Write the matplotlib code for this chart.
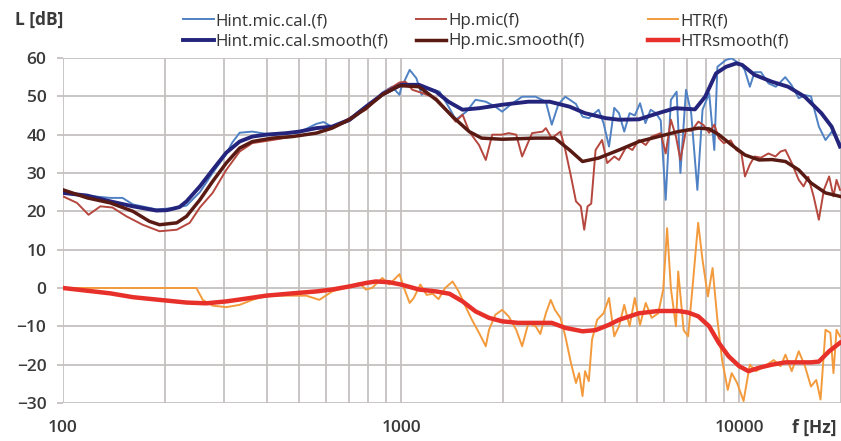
import matplotlib
matplotlib.use("Agg")
import matplotlib.pyplot as plt
from matplotlib.ticker import FixedLocator, NullFormatter

plt.rcParams['font.family'] = ['Open Sans', 'DejaVu Sans']

# Hint.mic.cal.(f) - raw
hint_f = [100, 110, 120, 138, 150, 161, 189, 210, 232, 254,
          277, 304, 317, 333, 363, 399, 458, 500, 561, 590,
          625, 703, 787, 880, 940, 989, 1000, 1060, 1110, 1150,
          1200, 1300, 1390, 1450, 1560, 1660, 1780, 1900, 1990, 2120,
          2280, 2500, 2680, 2790, 2920, 3060, 3290, 3440, 3590, 3840,
          3970, 4120, 4270, 4410, 4570, 4740, 4910, 5090, 5280, 5470,
          5670, 5860, 6060, 6280, 6530, 6700, 6960, 7210, 7520, 7790,
          8150, 8440, 8620, 9140, 9500, 10150, 10380, 10750, 11100, 11600,
          12200, 12830, 13680, 14260, 15000, 15650, 16300, 17200, 18000, 18800,
          19860]
hint_L = [25.5, 24.5, 24.0, 23.5, 23.5, 21.8, 20.5, 20.8, 21.5, 25.0,
          30.0, 35.0, 38.0, 40.5, 40.8, 40.2, 40.3, 40.6, 42.8, 43.3,
          42.0, 43.5, 46.8, 51.0, 52.5, 50.4, 52.1, 56.9, 54.7, 50.4,
          52.1, 51.2, 46.9, 43.9, 46.0, 49.1, 48.6, 47.3, 46.0, 48.0,
          49.9, 49.9, 48.6, 42.6, 48.0, 49.9, 48.0, 44.7, 44.3, 46.5,
          43.0, 36.9, 47.0, 45.6, 40.8, 45.6, 45.0, 48.2, 43.0, 46.5,
          45.6, 43.7, 23.0, 49.1, 51.2, 30.0, 51.7, 45.6, 25.6, 46.5,
          50.8, 36.0, 57.7, 59.5, 59.9, 58.2, 56.9, 52.5, 56.3, 56.3,
          53.4, 52.5, 55.0, 53.0, 49.5, 50.3, 50.0, 42.1, 38.6, 40.8,
          37.8]

# Hint.mic.cal.smooth(f)
hint_s_f = [100, 118, 138, 161, 189, 203, 221, 232, 254, 277,
            304, 333, 363, 399, 458, 500, 561, 625, 703, 787,
            880, 1000, 1130, 1270, 1380, 1520, 1700, 1990, 2380, 2750,
            3150, 3500, 4030, 4410, 5050, 5760, 6460, 7400, 7930, 8540,
            9140, 9800, 10200, 11100, 12500, 13950, 15620, 17500, 18760, 19860]
hint_s_L = [24.8, 24.1, 22.6, 21.3, 20.2, 20.3, 21.1, 22.6, 26.5, 30.8,
            35.3, 38.2, 39.5, 40.0, 40.4, 40.8, 41.7, 42.1, 43.9, 47.3,
            50.5, 53.0, 53.0, 51.2, 48.6, 46.5, 46.9, 47.8, 48.6, 48.6,
            47.3, 45.6, 44.3, 43.9, 44.0, 45.6, 46.9, 46.6, 49.9, 56.0,
            57.7, 58.6, 58.2, 55.6, 53.8, 52.5, 49.9, 45.6, 42.1, 36.9]

# Hp.mic(f) - raw
hp_f = [100, 110, 119, 129, 140, 154, 172, 193, 217, 237,
        254, 277, 304, 333, 363, 416, 477, 561, 625, 703,
        787, 880, 989, 1030, 1080, 1160, 1270, 1350, 1450, 1520,
        1590, 1700, 1780, 1860, 1990, 2080, 2190, 2280, 2440, 2620,
        2680, 2790, 2960, 3060, 3180, 3290, 3400, 3480, 3560, 3650,
        3760, 3930, 4070, 4270, 4410, 4640, 4830, 5050, 5290, 5510,
        5860, 6060, 6280, 6500, 6700, 6960, 7230, 7570, 7840, 8150,
        8440, 8700, 9000, 9440, 9800, 10150, 10400, 10750, 11100, 11600,
        12200, 12800, 13250, 13700, 14300, 15000, 15500, 16000, 16600, 17200,
        17800, 18450, 19000, 19400, 19860]
hp_L = [23.9, 22.2, 19.1, 21.3, 21.0, 18.7, 16.5, 14.8, 15.2, 17.0,
        21.0, 24.8, 30.8, 35.6, 37.8, 38.6, 39.5, 40.4, 41.7, 44.3,
        46.5, 50.8, 53.6, 53.8, 51.7, 50.8, 49.5, 46.9, 43.4, 45.2,
        40.8, 37.3, 33.4, 40.0, 40.0, 40.4, 40.0, 34.3, 40.4, 40.8,
        41.7, 39.1, 40.8, 36.0, 29.1, 22.6, 21.3, 15.2, 21.3, 22.0,
        36.0, 38.6, 32.6, 34.3, 33.4, 36.9, 36.0, 38.6, 37.3, 39.5,
        40.4, 35.1, 43.9, 39.5, 33.4, 41.2, 41.0, 43.4, 42.5, 40.5,
        42.6, 39.1, 37.8, 38.5, 36.0, 35.1, 29.1, 32.2, 34.3, 34.0,
        35.1, 34.3, 35.6, 36.0, 32.6, 28.2, 26.5, 29.0, 23.9, 17.8,
        25.6, 29.1, 23.9, 28.2, 25.6]

# Hp.mic.smooth(f)
hp_s_f = [100, 118, 138, 161, 180, 193, 217, 232, 254, 277,
          304, 333, 363, 416, 477, 561, 625, 703, 787, 880,
          989, 1130, 1270, 1420, 1590, 1730, 1990, 2500, 2850, 3150,
          3440, 3840, 4410, 5050, 5760, 6600, 7570, 8150, 8700, 9500,
          10400, 11450, 12500, 13700, 15000, 16300, 18000, 19860]
hp_s_L = [25.6, 23.5, 22.2, 20.0, 17.4, 16.5, 17.0, 18.7, 23.0, 27.8,
          32.6, 36.5, 38.2, 39.1, 39.5, 40.4, 41.7, 43.9, 46.9, 50.4,
          52.8, 52.5, 49.1, 44.7, 40.8, 39.1, 38.8, 39.1, 39.1, 36.0,
          33.0, 33.9, 36.0, 38.2, 39.5, 40.8, 41.7, 41.5, 40.0, 37.3,
          34.7, 33.4, 33.5, 33.0, 30.8, 27.4, 24.8, 23.9]

# HTR(f) - raw
htr_f = [100, 248, 259, 277, 304, 333, 363, 399, 524, 573,
         625, 703, 752, 787, 820, 880, 922, 989, 1020, 1060,
         1090, 1140, 1190, 1240, 1290, 1350, 1420, 1480, 1550, 1620,
         1700, 1780, 1820, 1900, 1990, 2080, 2190, 2280, 2380, 2500,
         2580, 2680, 2770, 2850, 2960, 3060, 3180, 3290, 3360, 3440,
         3500, 3590, 3670, 3800, 3970, 4120, 4270, 4410, 4570, 4740,
         4910, 5090, 5290, 5510, 5760, 5960, 6120, 6280, 6500, 6600,
         6850, 7060, 7310, 7560, 7790, 8080, 8340, 8620, 8900, 9250,
         9500, 9860, 10300, 10750, 11200, 11900, 12650, 13250, 13700, 14300,
         15000, 15650, 16300, 16900, 17400, 18000, 18600, 19000, 19400, 19860]
htr_L = [0.0, 0.0, -3.1, -4.6, -5.0, -4.4, -3.1, -2.0, -2.0, -3.1,
         -0.9, 0.4, 1.3, -0.4, 0.0, 2.6, 0.9, 3.6, 0.0, -3.9,
         -2.6, 0.9, -1.8, -1.5, -2.9, 0.0, 1.7, -0.9, -4.8, -8.3,
         -11.7, -15.2, -10.9, -7.0, -5.7, -7.4, -10.9, -15.2, -9.1, -10.0,
         -12.0, -6.6, -3.1, -5.7, -7.8, -12.6, -19.6, -24.8, -22.2, -28.2,
         -21.7, -24.3, -13.5, -8.3, -6.6, -2.6, -12.6, -10.0, -4.4, -10.0,
         -2.6, -9.6, -3.9, -7.8, -6.6, -0.4, 15.6, -0.2, -10.0, 4.3,
         -11.0, -12.6, 2.2, 17.0, 7.3, -2.2, 5.2, -8.3, -18.8, -26.6,
         -22.2, -24.8, -29.5, -20.0, -21.7, -20.4, -18.8, -20.4, -17.4, -21.7,
         -16.5, -20.4, -25.7, -24.0, -29.1, -10.9, -11.7, -22.2, -10.9, -12.6]

# HTRsmooth(f)
htr_s_f = [100, 138, 161, 193, 232, 265, 304, 340, 399, 477,
           561, 625, 703, 787, 842, 922, 1000, 1130, 1270, 1390,
           1520, 1660, 1820, 1990, 2220, 2500, 2790, 3060, 3440, 3760,
           4120, 4410, 5050, 5760, 6600, 7060, 7570, 8150, 8700, 9300,
           10000, 10650, 11450, 12500, 13700, 15000, 16300, 17200, 18450, 19860]
htr_s_L = [0.0, -1.4, -2.4, -3.1, -3.8, -4.0, -3.5, -2.9, -2.0, -1.4,
           -0.9, -0.4, 0.4, 1.3, 1.7, 1.5, 0.9, -0.4, -0.9, -1.5,
           -3.5, -6.1, -7.8, -8.7, -9.1, -9.1, -9.1, -10.4, -11.3, -11.0,
           -9.6, -8.3, -6.6, -6.0, -6.0, -6.4, -7.4, -10.0, -14.3, -17.8,
           -20.4, -21.7, -20.8, -20.0, -19.4, -19.4, -19.4, -19.2, -16.5, -14.3]

fig = plt.figure(figsize=(8.41, 4.41), dpi=100)
ax = fig.add_axes([0.0749, 0.0862, 0.9251, 0.7823])

gridCol = '#c6c0c0'
txtCol = '#3a3a3a'

l1, = ax.plot(hint_f, hint_L, color='#4f81c4', lw=1.4)
l3, = ax.plot(hp_f, hp_L, color='#b5473e', lw=1.4)
l5, = ax.plot(htr_f, htr_L, color='#f39a3c', lw=1.4)
l2, = ax.plot(hint_s_f, hint_s_L, color='#24247c', lw=2.8)
l4, = ax.plot(hp_s_f, hp_s_L, color='#5a1a14', lw=2.5)
l6, = ax.plot(htr_s_f, htr_s_L, color='#e8302a', lw=3.2)

ax.set_xscale('log')
ax.set_xlim(100, 20000)
ax.set_ylim(-30, 60)
ax.set_yticks(range(-30, 61, 10))
ax.xaxis.set_major_locator(FixedLocator([100, 1000, 10000]))
ax.set_xticklabels(['100', '1000', '10000'])
minors = [m * d for d in (100, 1000) for m in range(2, 10)] + [20000]
ax.xaxis.set_minor_locator(FixedLocator(minors))
ax.xaxis.set_minor_formatter(NullFormatter())
ax.grid(True, which='both', color=gridCol, lw=1.3)
ax.set_axisbelow(True)
for s in ax.spines.values():
    s.set_visible(False)
ax.tick_params(which='both', length=0, labelsize=12.5, labelcolor=txtCol)
ax.tick_params(axis='y', length=4, width=1.3, color=gridCol, pad=8)
ax.tick_params(axis='x', pad=12)
for lab in ax.get_xticklabels() + ax.get_yticklabels():
    lab.set_fontweight('semibold')

fig.text(0.018, 0.956, 'L [dB]', fontsize=12.5, fontweight='bold', color=txtCol,
         va='center', ha='left')
fig.text(0.942, 0.03, 'f [Hz]', fontsize=12.5, fontweight='bold', color=txtCol,
         va='center', ha='left')

legKw = dict(loc='upper left', frameon=False, fontsize=12.2, handlelength=1.8,
             handletextpad=0.1, labelspacing=0.25, borderpad=0, borderaxespad=0,
             labelcolor='#333333')
fig.legend([l1, l2], ['Hint.mic.cal.(f)', 'Hint.mic.cal.smooth(f)'],
           bbox_to_anchor=(0.2176, 0.97), **legKw)
fig.legend([l3, l4], ['Hp.mic(f)', 'Hp.mic.smooth(f)'],
           bbox_to_anchor=(0.4946, 0.97), **legKw)
fig.legend([l5, l6], ['HTR(f)', 'HTRsmooth(f)'],
           bbox_to_anchor=(0.7705, 0.97), **legKw)

fig.savefig('out.png', dpi=100)
